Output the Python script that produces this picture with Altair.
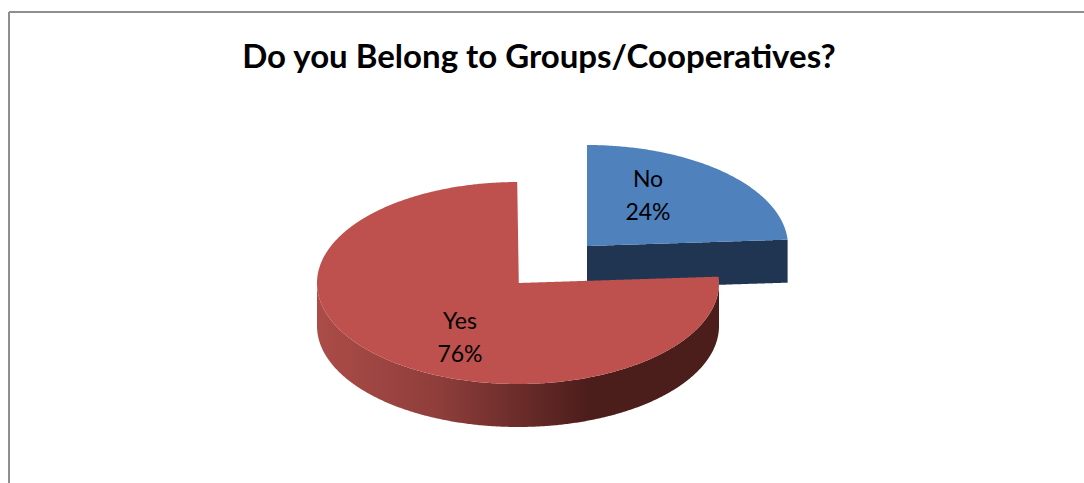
import altair as alt
import numpy as np
import pandas as pd

TITLE = "Do you Belong to Groups/Cooperatives?"
categories = ["No", "Yes"]
shares = [24, 76]

W, H = 1084, 483
RX, RY, DEPTH = 201, 101, 43
BLUE_CENTER = (587, 246)
RED_CENTER = (518, 283)
LABEL_POS = {"No": (648, 180), "Yes": (460, 322)}
LABEL_GAP = 33

FONT = "Lato"
BLUE_TOP, BLUE_SIDE = "#4F81BD", "#1F3552"
RED_TOP = "#BE504D"
FRAME = "#8E8E8E"

x_scale = alt.Scale(domain=[0, W], range=[0, W], nice=False, zero=False)
y_scale = alt.Scale(domain=[H, 0], range=[H, 0], nice=False, zero=False)


def enc(xf="x", yf="y", y2f=None):
    kw = dict(
        x=alt.X(f"{xf}:Q", scale=x_scale, axis=None),
        y=alt.Y(f"{yf}:Q", scale=y_scale, axis=None, stack=None),
    )
    if y2f:
        kw["y2"] = alt.Y2(f"{y2f}:Q")
    return kw


def end_point(center, share):
    """Where the slice's clockwise edge (measured from 12 o'clock) meets the rim."""
    a = np.radians(share * 3.6)
    return center[0] + RX * np.sin(a), center[1] - RY * np.cos(a)


def no_slice(center, share):
    # Upper rim from 12 o'clock to the end of the sweep; lower edge is the cut.
    cx, cy = center
    ex, ey = end_point(center, share)
    t = np.linspace(0, np.radians(share * 3.6), 160)
    xs = cx + RX * np.sin(t)
    top = cy - RY * np.cos(t)
    cut = cy + (ey - cy) * (xs - cx) / (ex - cx)
    return pd.DataFrame({"x": xs, "y": top, "y2": cut, "side": cut + DEPTH})


def yes_slice(center, share):
    # Sweeps the rest of the disc, from the end of the other slice round to 12 o'clock.
    cx, cy = center
    ex, ey = end_point(center, 100 - share)
    t = np.linspace(0, np.pi, 400)
    xs = cx - RX * np.cos(t)
    ell = RY * np.sqrt(np.clip(1 - ((xs - cx) / RX) ** 2, 0, 1))
    upper = np.where(xs < cx, cy - ell, cy + (ey - cy) * (xs - cx) / (ex - cx))
    upper = np.where(xs > ex, cy - ell, upper)
    lower = cy + ell
    return pd.DataFrame({"x": xs, "y": upper, "y2": lower, "side": lower + DEPTH})


no_df = no_slice(BLUE_CENTER, shares[0])
yes_df = yes_slice(RED_CENTER, shares[1])

# Shaded rim of the large slice
rim_gradient = alt.Gradient(
    gradient="linear", x1=0, x2=1, y1=0, y2=0,
    stops=[
        alt.GradientStop(offset=0.0, color="#AB4C48"),
        alt.GradientStop(offset=0.30, color="#8F3E3B"),
        alt.GradientStop(offset=0.68, color="#4B1D1B"),
        alt.GradientStop(offset=1.0, color="#4B1D1B"),
    ],
)

layers = [
    alt.Chart(no_df).mark_area(color=BLUE_SIDE).encode(**enc(yf="y2", y2f="side")),
    alt.Chart(no_df).mark_area(color=BLUE_TOP).encode(**enc(y2f="y2")),
    alt.Chart(yes_df).mark_area(fill=rim_gradient).encode(**enc(yf="y2", y2f="side")),
    alt.Chart(yes_df).mark_area(color=RED_TOP).encode(**enc(y2f="y2")),
]

# Slice labels: category name with its percentage underneath
label_rows = []
for name, share in zip(categories, shares):
    lx, ly = LABEL_POS[name]
    label_rows.append({"x": lx, "y": ly, "text": name})
    label_rows.append({"x": lx, "y": ly + LABEL_GAP, "text": f"{share}%"})
layers.append(
    alt.Chart(pd.DataFrame(label_rows))
    .mark_text(font=FONT, fontSize=23, color="#000000", align="center", baseline="middle")
    .encode(**enc(), text="text:N")
)

layers.append(
    alt.Chart(pd.DataFrame({"x": [539], "y": [58], "text": [TITLE]}))
    .mark_text(font=FONT, fontSize=33, fontWeight="bold", color="#000000",
               align="center", baseline="middle")
    .encode(**enc(), text="text:N")
)

# Chart frame: only the top and left edges fall inside the view
frame_top = pd.DataFrame({"x": [9], "x2": [W], "y": [12]})
frame_left = pd.DataFrame({"x": [9], "y": [12], "y2": [H]})
layers.append(
    alt.Chart(frame_top).mark_rule(color=FRAME, strokeWidth=2)
    .encode(**enc(), x2="x2:Q")
)
layers.append(
    alt.Chart(frame_left).mark_rule(color=FRAME, strokeWidth=2)
    .encode(**enc(y2f="y2"))
)

chart = (
    alt.layer(*layers)
    .properties(width=W, height=H, padding=0, autosize=alt.AutoSizeParams(type="none"),
                background="white")
    .configure_view(stroke=None)
)

chart.save("out.html", embed_options={"renderer": "svg", "actions": False})
